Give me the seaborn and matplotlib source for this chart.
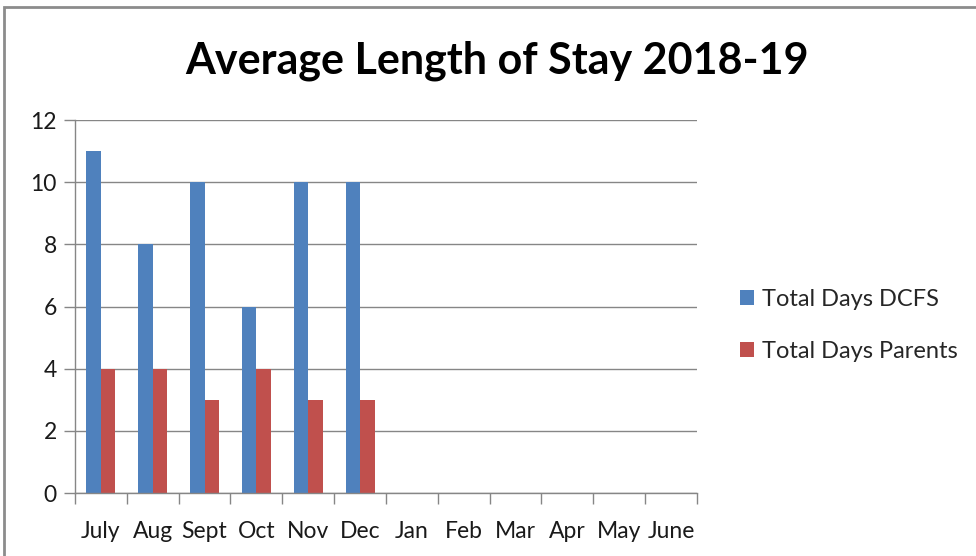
import pandas as pd
import numpy as np
import matplotlib.pyplot as plt
import seaborn as sns
from matplotlib.patches import Rectangle
from matplotlib.ticker import FixedLocator

# Data
months = ['July', 'Aug', 'Sept', 'Oct', 'Nov', 'Dec',
          'Jan', 'Feb', 'Mar', 'Apr', 'May', 'June']
days_dcfs = [11, 8, 10, 6, 10, 10, np.nan, np.nan, np.nan, np.nan, np.nan, np.nan]
days_parents = [4, 4, 3, 4, 3, 3, np.nan, np.nan, np.nan, np.nan, np.nan, np.nan]
series_names = ['Total Days DCFS', 'Total Days Parents']
colors = ['#4F81BD', '#C0504D']

df = pd.DataFrame({
    'month': months * 2,
    'days': days_dcfs + days_parents,
    'series': [series_names[0]] * len(months) + [series_names[1]] * len(months),
})

sns.set_theme(style='white')
plt.rcParams['font.family'] = ['Lato', 'DejaVu Sans']

fig = plt.figure(figsize=(9.76, 5.56), dpi=100)
ax = fig.add_axes([0.0768, 0.1133, 0.6373, 0.6707])

sns.barplot(data=df, x='month', y='days', hue='series', order=months,
            hue_order=series_names, palette=colors, width=0.56,
            saturation=1, linewidth=0, ax=ax, legend=True)

ax.set_xlim(-0.5, len(months) - 0.5)
ax.set_ylim(0, 12)
ax.set_yticks(range(0, 13, 2))
ax.yaxis.grid(True, color='#868686', linewidth=1)
ax.set_axisbelow(True)
ax.set_xlabel('')
ax.set_ylabel('')

for side in ['top', 'right']:
    ax.spines[side].set_visible(False)
for side in ['left', 'bottom']:
    ax.spines[side].set_color('#868686')
    ax.spines[side].set_linewidth(1)

# tick marks between categories, Excel style
ax.xaxis.set_minor_locator(FixedLocator(np.arange(-0.5, len(months), 1)))
ax.tick_params(axis='x', which='major', length=0, labelsize=16.5, pad=20, colors='#1a1a1a')
ax.tick_params(axis='x', which='minor', length=8, width=1, color='#868686', direction='out', bottom=True)
ax.tick_params(axis='y', which='major', length=8, width=1, color='#868686', direction='out',
               left=True, labelsize=16.5, pad=5, labelcolor='#1a1a1a')

leg = ax.legend(loc='center left', bbox_to_anchor=(1.035, 0.45), frameon=False,
                fontsize=17, handlelength=0.6, handleheight=0.6, handletextpad=0.35,
                labelspacing=1.3)

fig.text(0.509, 0.89, 'Average Length of Stay 2018-19', ha='center', va='center',
         fontsize=31, fontweight='bold', color='black')

# outer chart border
fig.patches.append(Rectangle((0.004, -0.05), 1.1, 1.037, transform=fig.transFigure,
                             fill=False, edgecolor='#8c8c8c', linewidth=2))

fig.savefig('out.png', dpi=100)
